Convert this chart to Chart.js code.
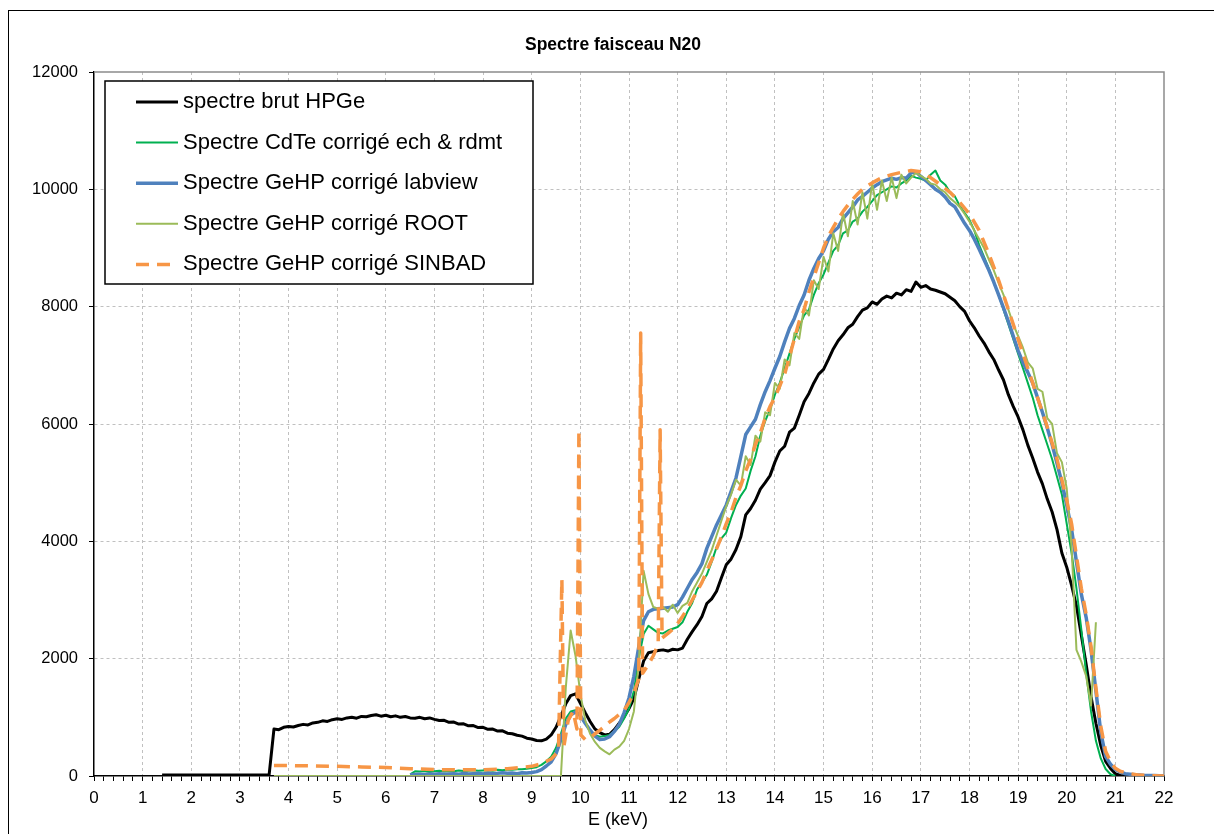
<!DOCTYPE html>
<html lang="fr">
<head>
<meta charset="utf-8">
<title>Spectre faisceau N20</title>
<script src="https://cdn.jsdelivr.net/npm/chart.js@4.4.1/dist/chart.umd.min.js"></script>
<style>
  html, body { margin: 0; padding: 0; background: #fff; overflow: hidden; }
  #cadre { position: absolute; left: 8px; top: 10px; width: 1400px; height: 1000px; border: 1.5px solid #000; }
  #spectre { position: absolute; left: 0; top: 0; }
</style>
</head>
<body>
<div id="cadre"></div>
<canvas id="spectre" width="1214" height="834"></canvas>
<script>
(function () {
  'use strict';

  // pas en énergie des séries échantillonnées régulièrement (keV)
  const STEP = 0.1;

  // axes
  const xMin = 0, xMax = 22, xMinorStep = 0.2;
  const yMin = 0, yMax = 12000, yStep = 2000;

  const chartTitle = 'Spectre faisceau N20';
  const xAxisTitle = 'E (keV)';
  const seriesLabels = [
    'spectre brut HPGe',
    'Spectre CdTe corrigé ech & rdmt',
    'Spectre GeHP corrigé labview',
    'Spectre GeHP corrigé ROOT',
    'Spectre GeHP corrigé SINBAD'
  ];

  // spectre brut HPGe, de 1.4 keV par pas de 0.1
  const brutStart = 1.4;
  const brutHPGe = [
    15, 15, 15, 15, 15, 15, 15, 15, 15, 15,
    15, 15, 15, 15, 15, 15, 15, 15, 15, 15,
    15, 15, 15,
    800, 790, 830, 845, 835, 860, 880, 870, 905, 915,
    940, 930, 960, 975, 965, 990, 1000, 985, 1015, 1010,
    1030, 1045, 1020, 1035, 1010, 1025, 1000, 1015, 990, 985,
    1000, 975, 990, 965, 945, 950, 915, 920, 885, 890,
    855, 860, 825, 830, 795, 800, 765, 770, 730, 720,
    695, 680, 645, 630, 605, 600, 630, 700, 830, 1020,
    1230, 1370, 1400, 1240, 1080, 930, 800, 740, 700, 710,
    790, 900, 1010, 1150, 1320, 1650, 1960, 2100, 2120, 2140,
    2150, 2130, 2160, 2150, 2180, 2330, 2460, 2580, 2720, 2940,
    3020, 3150, 3380, 3600, 3700, 3860, 4080, 4450, 4560, 4700,
    4890, 5000, 5120, 5350, 5540, 5620, 5860, 5930, 6150, 6380,
    6520, 6700, 6850, 6930, 7100, 7280, 7420, 7520, 7640, 7700,
    7830, 7940, 7980, 8080, 8040, 8130, 8180, 8150, 8230, 8200,
    8290, 8260, 8420, 8330, 8360, 8300, 8280, 8250, 8220, 8160,
    8100, 8000, 7920, 7760, 7640, 7500, 7380, 7230, 7100, 6920,
    6750, 6500, 6300, 6120, 5900, 5640, 5420, 5180, 4980, 4720,
    4500, 4200, 3800, 3560, 3250, 2900, 2400, 1900, 1350, 900,
    520, 250, 130, 40, 10, 0
  ];

  // CdTe corrigé, de 6.5 keV
  const cdteStart = 6.5;
  const cdteCorr = [
    30, 80, 75, 85, 70, 80, 90, 75, 85, 80,
    95, 85, 90, 100, 90, 95, 100, 90, 105, 100,
    110, 105, 115, 115, 125, 135, 150, 190, 250, 330,
    480, 720, 980, 1100, 1120, 1030, 900, 780, 700, 670,
    680, 700, 760, 840, 980, 1150, 1450, 2000, 2420, 2560,
    2500, 2440, 2430, 2480, 2510, 2540, 2620, 2800, 2950, 3180,
    3300, 3430, 3650, 3900, 4050, 4150, 4400, 4620, 4780, 4900,
    5200, 5450, 5800, 6050, 6250, 6500, 6700, 6950, 7200, 7450,
    7650, 7850, 7950, 8200, 8400, 8550, 8750, 8950, 9050, 9250,
    9300, 9450, 9500, 9620, 9700, 9800, 9900, 9950, 10000, 10050,
    10030, 10100, 10150, 10230, 10200, 10180, 10150, 10250, 10320, 10150,
    10080, 9950, 9880, 9720, 9600, 9480, 9300, 9050, 8850, 8650,
    8420, 8200, 7950, 7700, 7450, 7200, 6950, 6700, 6450, 6150,
    5900, 5650, 5400, 5100, 4800, 4300, 3800, 3200, 2500, 1750,
    1100, 600, 300, 120, 30, 0
  ];

  // GeHP corrigé labview, de 6.5 keV
  const labviewStart = 6.5;
  const labviewCorr = [
    20, 25, 30, 25, 35, 30, 40, 30, 35, 40,
    30, 45, 35, 40, 45, 35, 50, 40, 45, 55,
    45, 50, 40, 55, 50, 60, 75, 110, 170, 240,
    380, 620, 880, 1040, 1090, 1030, 900, 780, 680, 620,
    630, 670, 760, 880, 1080, 1330, 1700, 2200, 2650, 2800,
    2840, 2850, 2860, 2870, 2880, 2920, 3050, 3200, 3350, 3470,
    3620, 3880, 4080, 4280, 4450, 4620, 4850, 5080, 5450, 5820,
    5950, 6080, 6330, 6550, 6740, 6950, 7150, 7400, 7630, 7800,
    8020, 8200, 8450, 8650, 8820, 8950, 9150, 9280, 9350, 9500,
    9600, 9700, 9820, 9880, 9950, 10020, 10080, 10130, 10160, 10190,
    10170, 10200, 10190, 10280, 10300, 10220, 10150, 10080, 10000, 9950,
    9870, 9760, 9700, 9560, 9420, 9300, 9150, 8980, 8800, 8620,
    8420, 8200, 7980, 7750, 7500, 7250, 7050, 6880, 6700, 6450,
    6200, 5930, 5650, 5330, 5000, 4620, 4200, 3650, 3100, 2700,
    2150, 1450, 750, 330, 200, 110, 70, 40, 30, 20,
    15, 10, 10, 8, 5, 5
  ];

  // GeHP corrigé ROOT, de 3.7 keV
  const rootStart = 3.7;
  const rootCorr = [
    0, 0, 0, 0, 0, 0, 0, 0, 0, 0,
    0, 0, 0, 0, 0, 0, 0, 0, 0, 0,
    0, 0, 0, 0, 0, 0, 0, 0, 0, 0,
    0, 0, 0, 0, 0, 0, 0, 0, 0, 0,
    0, 0, 0, 0, 0, 0, 0, 0, 0, 0,
    0, 0, 0, 0, 0, 0, 0, 0, 0, 0,
    1500, 2480, 2050, 1400, 950, 720, 580, 480, 420, 370,
    450, 500, 600, 800, 1100, 1900, 3500, 3100, 2880, 2850,
    2880, 2800, 2920, 2780, 2900, 2950, 3150, 3300, 3450, 3650,
    3850, 4100, 4350, 4600, 4800, 5050, 4950, 5450, 5300, 5800,
    5700, 6200, 6150, 6700, 6600, 7100, 7000, 7550, 7450, 8000,
    7850, 8450, 8300, 8850, 8600, 9250, 8950, 9600, 9200, 9800,
    9400, 9950, 9500, 10100, 9650, 10150, 9800, 10200, 9850, 10250,
    10100, 10200, 10280, 10230, 10180, 10100, 10080, 10000, 9950, 9850,
    9780, 9700, 9580, 9450, 9300, 9150, 9000, 8800, 8620, 8400,
    8200, 7950, 7700, 7500, 7300, 7050, 6950, 6600, 6550, 6100,
    6000, 5500, 5350, 4900, 3900, 2150, 1950, 1700, 1200, 2620
  ];

  // GeHP corrigé SINBAD : énergies irrégulières (raies fines)
  const sinbadE = [
    3.7, 4.0, 4.5, 5.0, 5.5, 6.0, 6.5, 7.0, 7.5, 8.0, 8.5, 9.0, 9.2, 9.4, 9.55,
    9.62, 9.66, 9.75, 9.85, 9.93, 9.97, 10.01,
    10.1, 10.2, 10.3, 10.4, 10.5, 10.6, 10.7, 10.8, 10.9, 11.0, 11.1, 11.2,
    11.24, 11.28, 11.4, 11.5, 11.6, 11.64, 11.68,
    11.8, 11.9, 12.0, 12.1, 12.2, 12.3, 12.4, 12.5, 12.6, 12.7,
    12.8, 12.9, 13.0, 13.1, 13.2, 13.3, 13.4, 13.5, 13.6, 13.7,
    13.8, 13.9, 14.0, 14.1, 14.2, 14.3, 14.4, 14.5, 14.6, 14.7,
    14.8, 14.9, 15.0, 15.1, 15.2, 15.3, 15.4, 15.5, 15.6, 15.7,
    15.8, 15.9, 16.0,
    16.2, 16.4, 16.6, 16.8, 17.0, 17.2, 17.4, 17.6, 17.8, 18.0,
    18.2, 18.4, 18.6, 18.8, 19.0, 19.2, 19.4, 19.6, 19.8, 20.0,
    20.1, 20.2, 20.3, 20.4, 20.5, 20.6, 20.7, 20.8, 20.9, 21.0, 21.1,
    21.3, 21.5, 21.8, 22.0
  ];
  const sinbadCorr = [
    180, 178, 172, 165, 155, 145, 125, 110, 105, 105, 125, 165, 210, 290, 420,
    3350, 500, 950, 1100, 800, 5900, 700,
    620, 650, 720, 780, 850, 920, 980, 1050, 1120, 1250, 1420, 1650,
    7550, 1750, 1900, 2050, 2250, 5900, 2350,
    2430, 2500, 2600, 2720, 2850, 3000, 3150, 3300, 3500, 3680,
    3870, 4080, 4300, 4500, 4750, 4950, 5200, 5400, 5650, 5850,
    6100, 6300, 6450, 6650, 6850, 7150, 7450, 7750, 7950, 8250,
    8500, 8750, 9000, 9200, 9350, 9500, 9620, 9730, 9830, 9920,
    10000, 10060, 10110,
    10200, 10250, 10290, 10320, 10300, 10200, 10080, 9950, 9780, 9580,
    9300, 8900, 8450, 7950, 7450, 6950, 6450, 5950, 5400, 4700,
    4300, 3750, 3200, 2750, 2200, 1500, 850, 420, 250, 130, 80,
    40, 15, 5, 0
  ];

  function fromGrid(start, values) {
    return values.map((v, i) => ({ x: Math.round((start + i * STEP) * 100) / 100, y: v }));
  }
  function fromPairs(energies, values) {
    return energies.map((e, i) => ({ x: e, y: values[i] }));
  }

  const FONT = '"Liberation Sans", Arial, sans-serif';

  const datasets = [
    { label: seriesLabels[0], data: fromGrid(brutStart, brutHPGe), borderColor: '#000000', borderWidth: 3, order: 5 },
    { label: seriesLabels[1], data: fromGrid(cdteStart, cdteCorr), borderColor: '#00b050', borderWidth: 2, order: 4 },
    { label: seriesLabels[2], data: fromGrid(labviewStart, labviewCorr), borderColor: '#4f81bd', borderWidth: 3.5, order: 3 },
    { label: seriesLabels[3], data: fromGrid(rootStart, rootCorr), borderColor: '#9bbb59', borderWidth: 2, order: 2 },
    { label: seriesLabels[4], data: fromPairs(sinbadE, sinbadCorr), borderColor: '#f79646', borderWidth: 3.5, borderDash: [13, 8], order: 1 }
  ];

  const isInteger = v => Math.abs(v - Math.round(v)) < 1e-6;

  // cadre gris haut / droite de la zone de tracé
  const plotFrame = {
    id: 'plotFrame',
    beforeDatasetsDraw(chart) {
      const { ctx, chartArea: a } = chart;
      ctx.save();
      ctx.strokeStyle = '#8c8c8c';
      ctx.lineWidth = 1.5;
      ctx.beginPath();
      ctx.moveTo(a.left, a.top);
      ctx.lineTo(a.right, a.top);
      ctx.lineTo(a.right, a.bottom);
      ctx.stroke();
      ctx.restore();
    }
  };

  // titre du graphique et titre de l'axe des énergies
  const titles = {
    id: 'titles',
    afterDraw(chart) {
      const { ctx, chartArea: a } = chart;
      ctx.save();
      ctx.fillStyle = '#000';
      ctx.textAlign = 'center';
      ctx.textBaseline = 'middle';
      ctx.font = 'bold 17.5px ' + FONT;
      ctx.fillText(chartTitle, 613, 45);
      ctx.font = '18px ' + FONT;
      ctx.fillText(xAxisTitle, (a.left + a.right) / 2 - 11, 820);
      ctx.restore();
    }
  };

  // légende encadrée dans la zone de tracé
  const boxedLegend = {
    id: 'boxedLegend',
    afterDraw(chart) {
      const c = chart.ctx;
      c.save();
      c.fillStyle = '#fff';
      c.fillRect(105, 81, 428, 203);
      c.strokeStyle = '#000';
      c.lineWidth = 1.5;
      c.strokeRect(105, 81, 428, 203);
      c.font = '22px ' + FONT;
      c.textBaseline = 'middle';
      chart.data.datasets.forEach((ds, i) => {
        const y = 102 + i * 40.6;
        c.beginPath();
        c.strokeStyle = ds.borderColor;
        c.lineWidth = ds.borderWidth;
        c.setLineDash(ds.borderDash || []);
        c.moveTo(136, y);
        c.lineTo(178, y);
        c.stroke();
        c.setLineDash([]);
        c.fillStyle = '#000';
        c.fillText(ds.label, 183, y);
      });
      c.restore();
    }
  };

  const ctx = document.getElementById('spectre').getContext('2d');
  new Chart(ctx, {
    type: 'line',
    data: { datasets: datasets },
    options: {
      responsive: false,
      animation: false,
      devicePixelRatio: 1,
      layout: { padding: { left: 0, right: 50, top: 72, bottom: 0 } },
      elements: {
        point: { radius: 0, hoverRadius: 0 },
        line: { tension: 0, borderJoinStyle: 'round', fill: false }
      },
      plugins: {
        legend: { display: false },
        title: { display: false },
        tooltip: { enabled: false }
      },
      scales: {
        x: {
          type: 'linear',
          min: xMin,
          max: xMax,
          afterFit: s => { s.height = 58; },
          ticks: {
            stepSize: xMinorStep,
            autoSkip: false,
            maxRotation: 0,
            padding: 7,
            color: '#000',
            font: { family: FONT, size: 17 },
            callback: v => (isInteger(v) ? String(Math.round(v)) : '')
          },
          grid: {
            color: c => (isInteger(c.tick.value) && c.tick.value > xMin && c.tick.value < xMax ? '#c0c0c0' : 'rgba(0,0,0,0)'),
            lineWidth: 1,
            tickLength: 5,
            tickColor: '#000',
            tickWidth: 1
          },
          border: { color: '#000', width: 1.5, dash: [3, 3] }
        },
        y: {
          min: yMin,
          max: yMax,
          afterFit: s => { s.width = 94; },
          ticks: {
            stepSize: yStep,
            padding: 11,
            color: '#000',
            font: { family: FONT, size: 16.5 },
            callback: v => String(v)
          },
          grid: {
            color: c => (c.tick.value > yMin && c.tick.value < yMax ? '#c0c0c0' : 'rgba(0,0,0,0)'),
            lineWidth: 1,
            tickLength: 5,
            tickColor: '#000',
            tickWidth: 1
          },
          border: { color: '#000', width: 1.5, dash: [3, 3] }
        }
      }
    },
    plugins: [plotFrame, titles, boxedLegend]
  });
})();
</script>
</body>
</html>
